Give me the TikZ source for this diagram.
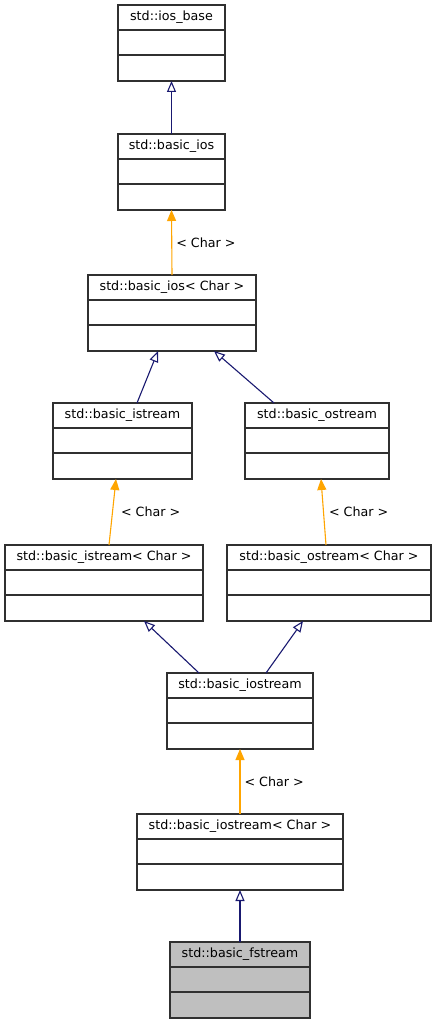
\documentclass[tikz,border=0pt]{standalone}
\usepackage{fontspec}
\setmainfont{DejaVu Sans}
\usetikzlibrary{arrows.meta}
\definecolor{navyline}{HTML}{191970}
\definecolor{orangeline}{HTML}{FFA500}
\definecolor{boxgray}{HTML}{BFBFBF}
\definecolor{boxedge}{HTML}{303030}
\tikzset{
  clsbox/.style={draw=boxedge, line width=1.1pt, rectangle, inner sep=0pt, outer sep=0pt, minimum height=76pt, anchor=north west},
  clsline/.style={draw=boxedge, line width=1.1pt},
  clstext/.style={font=\fontsize{12.7}{15}\selectfont, inner sep=0pt},
  inh/.style={draw=navyline, line width=1.1pt, -{Triangle[open, length=11pt, width=9pt]}},
  tmpl/.style={draw=orangeline, line width=1.1pt, -{Triangle[length=11pt, width=9pt]}},
  tlabel/.style={font=\fontsize{12.7}{15}\selectfont, inner sep=0pt, anchor=west}
}
\newcommand\umlcls[6]{%
  \node[clsbox, fill=#6, minimum width={#4-#2}] (#1) at (#2,#3) {};
  \draw[clsline] ([yshift=-25pt]#1.north west) -- ([yshift=-25pt]#1.north east);
  \draw[clsline] ([yshift=-50pt]#1.north west) -- ([yshift=-50pt]#1.north east);
  \node[clstext] (#1-t) at ([yshift=-12.5pt]#1.north) {#5};
}
\begin{document}
\begin{tikzpicture}[x=1pt, y=-1pt]
\useasboundingbox[fill=white] (0,0) rectangle (436,1024);
\umlcls{iosbase}{118}{5}{225}{std::ios\_base}{white}
\umlcls{ios}{118}{134}{225}{std::basic\_ios}{white}
\umlcls{iosC}{88}{275}{256}{std::basic\_ios< Char >}{white}
\umlcls{istr}{53}{403}{192}{std::basic\_istream}{white}
\umlcls{ostr}{245}{403}{389}{std::basic\_ostream}{white}
\umlcls{istrC}{5}{545}{203}{std::basic\_istream< Char >}{white}
\umlcls{ostrC}{227}{545}{431}{std::basic\_ostream< Char >}{white}
\umlcls{iostr}{167}{673}{313}{std::basic\_iostream}{white}
\umlcls{iostrC}{137}{814}{343}{std::basic\_iostream< Char >}{white}
\umlcls{fstr}{170}{942}{310}{std::basic\_fstream}{boxgray}

\draw[inh] (ios.north) -- (iosbase.south);
\draw[tmpl] (iosC.north) -- node[tlabel, xshift=4pt] (l1) {< Char >} (ios.south);
\draw[inh] ([xshift=14.5pt]istr.north) -- ([xshift=-14pt]iosC.south);
\draw[inh] ([xshift=-43pt]ostr.north) -- ([xshift=42pt]iosC.south);
\draw[tmpl] ([xshift=5pt]istrC.north) -- node[tlabel, xshift=8pt] (l2) {< Char >} ([xshift=-6.5pt]istr.south);
\draw[tmpl] ([xshift=-3pt]ostrC.north) -- node[tlabel, xshift=5pt] (l3) {< Char >} ([xshift=4pt]ostr.south);
\draw[inh] ([xshift=-41pt]iostr.north) -- ([xshift=40pt]istrC.south);
\draw[inh] ([xshift=26pt]iostr.north) -- ([xshift=-26pt]ostrC.south);
\draw[tmpl] (iostrC.north) -- node[tlabel, xshift=4pt] (l4) {< Char >} (iostr.south);
\draw[inh] (fstr.north) -- (iostrC.south);
\end{tikzpicture}
\end{document}
